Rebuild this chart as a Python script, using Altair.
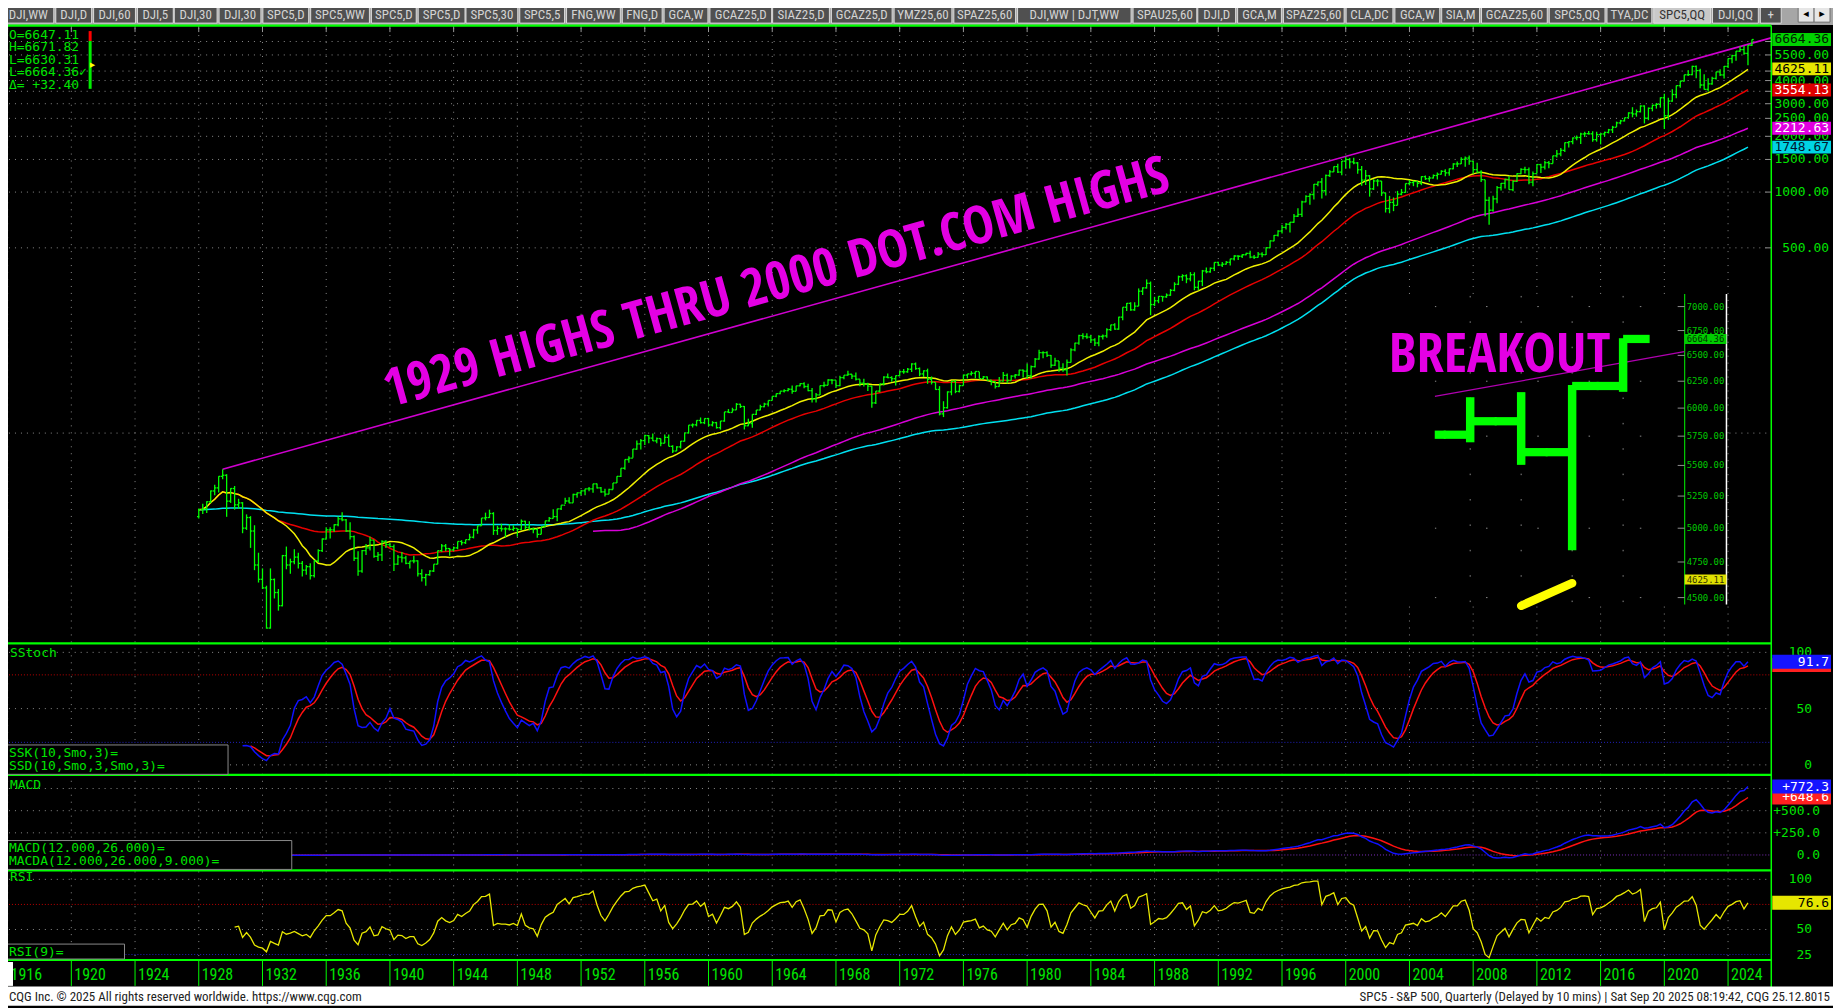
import math
import altair as alt
import numpy as np
import pandas as pd

# ----------------------------------------------------------------- data
FIRST_YEAR = 1928
FIRST_OPEN = 17.7

CLOSE = [
    19.3, 19.5, 21.3, 24.35, 25.3, 29.2, 29.6, 21.45, 25.1, 20.5, 21.0, 15.34,
    17.5, 14.8, 9.7, 8.12, 7.3, 4.43, 8.1, 6.89, 5.85, 10.9, 9.7, 10.1,
    10.7, 9.9, 9.1, 9.5, 8.5, 10.2, 11.6, 13.4, 15.0, 15.0, 16.0, 17.2,
    17.0, 14.8, 13.8, 10.55, 9.0, 11.6, 12.0, 13.2, 10.8, 11.0, 13.0, 12.5,
    12.2, 9.8, 10.7, 10.6, 9.9, 10.2, 10.2, 8.7, 8.3, 8.6, 9.0, 9.8,
    11.6, 12.3, 11.9, 11.7, 12.0, 13.0, 12.8, 13.3, 13.7, 15.0, 15.8, 17.4,
    17.5, 18.4, 14.9, 15.3, 15.2, 15.2, 15.1, 15.3, 15.1, 16.7, 15.5, 15.2,
    15.1, 14.2, 15.6, 16.8, 17.3, 17.7, 19.5, 20.4, 21.5, 21.0, 23.3, 23.8,
    24.4, 25.0, 25.0, 26.6, 25.3, 24.1, 23.4, 24.8, 26.9, 29.2, 32.3, 36.0,
    36.6, 41.0, 43.7, 45.5, 48.5, 47.0, 45.4, 46.7, 44.1, 47.4, 42.4, 40.0,
    42.1, 45.2, 50.1, 55.2, 55.4, 58.5, 56.9, 59.9, 55.3, 56.9, 53.5, 58.1,
    65.1, 64.6, 66.7, 71.55, 69.6, 54.75, 56.3, 63.1, 66.6, 69.4, 71.7, 75.0,
    79.0, 81.7, 84.2, 84.75, 86.2, 84.1, 90.0, 92.4, 89.2, 84.7, 76.6, 80.3,
    90.2, 90.6, 96.7, 96.5, 90.2, 99.6, 102.7, 103.9, 101.5, 97.7, 93.1, 92.1,
    89.6, 72.7, 84.3, 92.15, 100.3, 99.7, 98.3, 102.1, 107.2, 107.1, 110.6, 118.05,
    111.5, 104.3, 108.4, 97.55, 94.0, 86.0, 63.5, 68.56, 83.4, 95.2, 83.9, 90.2,
    102.8, 104.3, 105.2, 107.5, 98.4, 100.5, 96.5, 95.1, 89.2, 95.5, 102.5, 96.1,
    101.6, 102.9, 109.3, 107.9, 102.1, 114.2, 125.5, 135.8, 136.0, 131.2, 116.2, 122.6,
    112.0, 109.6, 120.4, 140.6, 153.0, 168.1, 166.1, 164.9, 159.2, 153.2, 166.1, 167.2,
    180.7, 191.9, 182.1, 211.3, 238.9, 250.8, 231.3, 242.2, 291.7, 304.0, 321.8, 247.1,
    258.9, 273.5, 271.9, 277.7, 294.9, 318.0, 349.2, 353.4, 339.9, 358.0, 306.1, 330.2,
    375.2, 371.2, 387.9, 417.1, 403.7, 408.1, 417.8, 435.7, 451.7, 450.5, 458.9, 466.5,
    445.8, 444.3, 462.7, 459.3, 500.7, 544.75, 584.4, 615.9, 645.5, 670.6, 687.3, 740.7,
    757.1, 885.1, 947.3, 970.4, 1101.8, 1133.8, 1017.0, 1229.2, 1286.4, 1372.7, 1282.7, 1469.25,
    1498.6, 1454.6, 1436.5, 1320.3, 1160.3, 1224.4, 1040.9, 1148.1, 1147.4, 989.8, 815.3, 879.8,
    848.2, 974.5, 996.0, 1111.9, 1126.2, 1140.8, 1114.6, 1211.9, 1180.6, 1191.3, 1228.8, 1248.3,
    1294.8, 1270.2, 1335.85, 1418.3, 1420.9, 1503.35, 1526.75, 1468.4, 1322.7, 1280.0, 1166.4, 903.25,
    797.9, 919.3, 1057.1, 1115.1, 1169.4, 1030.7, 1141.2, 1257.6, 1325.8, 1320.6, 1131.4, 1257.6,
    1408.5, 1362.2, 1440.7, 1426.2, 1569.2, 1606.3, 1681.55, 1848.4, 1872.3, 1960.2, 1972.3, 2058.9,
    2067.9, 2063.1, 1920.0, 2043.9, 2059.7, 2098.9, 2168.3, 2238.8, 2362.7, 2423.4, 2519.4, 2673.6,
    2640.9, 2718.4, 2914.0, 2506.85, 2834.4, 2941.8, 2976.7, 3230.8, 2584.6, 3100.3, 3363.0, 3756.1,
    3972.9, 4297.5, 4307.5, 4766.2, 4530.4, 3785.4, 3585.6, 3839.5, 4109.3, 4450.4, 4288.1, 4769.8,
    5254.35, 5460.5, 5762.5, 5881.6, 5611.85, 6205.0, 6664.36,
]

HIGH = [
    19.6, 20.8, 21.4, 24.5, 26.3, 29.2, 31.9, 30.0, 25.2, 25.9, 22.1, 21.2,
    18.2, 17.8, 15.9, 11.3, 9.3, 7.5, 9.3, 8.2, 7.2, 11.0, 12.2, 10.5,
    11.8, 11.3, 10.2, 9.7, 9.9, 10.3, 11.8, 13.5, 15.5, 15.5, 16.1, 17.7,
    18.7, 17.2, 16.5, 14.0, 11.5, 11.7, 12.6, 13.8, 13.2, 11.4, 13.2, 13.2,
    12.8, 12.5, 11.0, 11.4, 10.9, 10.2, 10.9, 10.3, 9.2, 8.7, 9.1, 9.8,
    11.6, 12.6, 12.6, 12.0, 12.2, 13.0, 13.2, 13.3, 14.3, 15.2, 15.8, 17.4,
    18.6, 19.3, 18.7, 15.8, 16.2, 15.5, 16.1, 15.9, 15.3, 17.1, 16.8, 16.7,
    15.4, 15.3, 15.6, 16.8, 17.6, 19.4, 19.5, 20.4, 22.4, 22.5, 23.5, 23.9,
    24.6, 25.0, 25.6, 26.6, 26.7, 25.6, 25.0, 25.0, 26.9, 29.2, 32.3, 36.0,
    37.5, 41.0, 45.6, 46.4, 48.9, 48.8, 49.7, 47.4, 46.7, 49.1, 49.1, 43.0,
    42.4, 45.3, 50.1, 55.2, 56.4, 58.6, 60.7, 60.0, 60.4, 58.0, 57.5, 58.1,
    65.1, 67.4, 68.5, 72.6, 72.0, 70.0, 59.8, 63.1, 66.6, 71.0, 73.0, 75.0,
    79.1, 81.7, 84.2, 86.3, 87.6, 90.3, 90.0, 93.0, 94.1, 92.4, 87.6, 82.4,
    90.3, 94.6, 97.6, 97.6, 96.5, 102.0, 102.7, 108.4, 103.9, 106.2, 97.7, 98.3,
    93.5, 90.1, 84.3, 92.2, 101.2, 104.8, 101.2, 102.2, 108.6, 111.0, 112.3, 119.1,
    120.2, 113.0, 109.0, 111.4, 101.1, 94.0, 89.6, 74.3, 84.0, 95.2, 96.6, 91.2,
    103.5, 104.3, 108.0, 107.8, 107.0, 101.8, 100.9, 97.0, 94.9, 100.3, 107.0, 105.0,
    102.6, 104.3, 110.0, 110.3, 118.4, 116.0, 127.1, 141.0, 138.4, 138.1, 132.1, 127.4,
    122.6, 119.3, 124.9, 143.7, 153.7, 170.0, 172.7, 172.7, 169.3, 162.5, 168.9, 170.4,
    183.9, 192.0, 196.0, 212.0, 238.9, 252.0, 254.0, 254.0, 301.9, 306.0, 337.9, 328.9,
    272.0, 274.0, 274.0, 283.7, 300.0, 326.0, 354.0, 360.0, 359.7, 369.8, 368.9, 332.0,
    380.0, 392.0, 392.0, 418.0, 420.8, 419.0, 425.0, 436.0, 456.0, 454.0, 462.0, 470.9,
    482.9, 458.0, 475.5, 474.0, 503.0, 547.0, 586.0, 622.0, 664.0, 680.0, 690.0, 762.0,
    818.0, 898.0, 960.0, 985.0, 1106.0, 1139.0, 1190.6, 1244.9, 1316.6, 1375.0, 1420.3, 1473.1,
    1553.1, 1527.2, 1530.1, 1454.8, 1383.4, 1316.0, 1236.7, 1173.0, 1176.9, 1147.8, 994.5, 954.3,
    935.1, 1015.3, 1039.6, 1112.6, 1163.2, 1150.6, 1147.0, 1217.9, 1229.1, 1219.6, 1245.9, 1275.8,
    1310.9, 1326.7, 1340.3, 1431.8, 1461.6, 1540.6, 1555.9, 1576.1, 1471.8, 1440.2, 1313.2, 1167.0,
    943.9, 956.2, 1080.2, 1119.7, 1180.7, 1219.8, 1157.2, 1262.6, 1344.1, 1370.6, 1356.5, 1292.7,
    1419.2, 1422.4, 1474.5, 1471.0, 1570.3, 1687.2, 1729.9, 1849.4, 1884.0, 1968.2, 2019.3, 2093.6,
    2119.6, 2134.7, 2132.8, 2116.5, 2072.2, 2120.6, 2193.8, 2277.5, 2401.0, 2453.8, 2519.4, 2695.0,
    2872.9, 2791.5, 2940.9, 2939.9, 2860.3, 2964.2, 3028.0, 3247.9, 3393.5, 3233.1, 3588.1, 3760.2,
    3994.4, 4302.4, 4545.9, 4808.9, 4818.6, 4637.3, 4325.3, 4120.0, 4195.4, 4458.5, 4607.1, 4793.3,
    5264.9, 5505.5, 5767.4, 6100.0, 6147.4, 6215.1, 6671.8,
]

LOW = [
    17.3, 18.3, 18.5, 20.9, 23.1, 23.9, 28.2, 17.66, 21.0, 19.3, 19.5, 14.4,
    15.0, 12.0, 9.1, 7.8, 7.2, 4.40, 4.4, 6.4, 5.5, 5.8, 9.2, 8.7,
    9.8, 9.3, 8.4, 8.6, 8.1, 8.3, 10.0, 11.4, 13.3, 13.5, 14.6, 15.7,
    16.7, 14.6, 13.3, 10.2, 8.5, 8.8, 11.0, 11.6, 10.6, 10.2, 10.2, 12.0,
    12.1, 8.99, 9.7, 10.0, 9.8, 9.3, 9.9, 8.4, 7.9, 7.5, 8.5, 8.9,
    9.8, 11.4, 11.5, 10.9, 11.5, 11.8, 12.4, 12.6, 13.2, 13.5, 14.3, 15.8,
    16.9, 17.4, 14.1, 14.1, 14.7, 13.7, 14.9, 14.8, 13.8, 15.0, 15.0, 14.9,
    14.4, 13.6, 14.2, 15.6, 16.6, 17.3, 16.7, 19.2, 20.7, 20.9, 21.0, 22.4,
    23.1, 23.1, 24.3, 23.8, 25.1, 23.8, 22.7, 23.4, 24.8, 26.9, 29.0, 31.7,
    34.6, 36.8, 40.7, 40.8, 43.1, 44.1, 45.3, 44.1, 42.4, 44.0, 42.4, 39.0,
    40.0, 41.3, 45.0, 49.7, 53.6, 54.4, 56.3, 55.9, 54.2, 54.3, 52.9, 52.2,
    57.6, 64.2, 64.6, 66.7, 68.3, 52.3, 54.5, 53.5, 62.7, 66.4, 68.9, 69.6,
    74.9, 78.1, 80.9, 82.9, 84.1, 81.6, 84.1, 89.6, 87.4, 84.0, 73.2, 73.2,
    80.2, 88.4, 90.6, 91.8, 87.7, 89.6, 97.7, 102.0, 97.8, 96.2, 89.5, 89.2,
    84.4, 68.6, 71.8, 82.9, 90.2, 98.7, 94.7, 90.2, 101.7, 104.7, 105.8, 106.8,
    109.8, 101.3, 100.5, 92.2, 91.5, 85.7, 62.3, 61.0, 67.8, 80.0, 82.1, 82.9,
    90.2, 98.6, 102.2, 98.8, 98.4, 97.4, 96.2, 90.7, 86.9, 88.9, 94.9, 92.5,
    96.1, 98.4, 102.1, 99.9, 98.2, 98.2, 113.0, 124.5, 126.6, 128.8, 112.8, 115.0,
    107.3, 107.2, 102.2, 120.4, 138.3, 150.0, 160.3, 161.4, 153.8, 147.8, 147.3, 160.0,
    163.4, 177.9, 180.7, 180.8, 203.5, 228.3, 228.7, 228.6, 242.2, 278.2, 301.4, 216.5,
    242.6, 251.3, 256.0, 268.8, 275.3, 291.4, 314.6, 331.6, 322.2, 330.0, 295.5, 295.0,
    311.0, 365.0, 367.0, 375.0, 400.0, 394.5, 406.5, 401.6, 426.9, 429.7, 441.0, 456.0,
    438.9, 435.9, 443.0, 444.3, 457.2, 500.2, 542.5, 576.0, 597.0, 627.5, 605.9, 684.0,
    733.0, 733.5, 880.0, 855.3, 912.8, 1074.0, 923.3, 959.0, 1205.5, 1282.0, 1268.0, 1233.7,
    1339.4, 1339.4, 1413.9, 1254.1, 1081.2, 1091.0, 944.8, 1026.8, 1074.4, 952.9, 775.7, 768.6,
    788.9, 847.9, 960.8, 990.4, 1087.2, 1076.3, 1060.7, 1090.2, 1163.7, 1136.2, 1183.6, 1168.2,
    1245.7, 1219.3, 1224.5, 1327.1, 1364.0, 1416.4, 1370.6, 1406.1, 1257.0, 1272.0, 1133.5, 741.0,
    666.8, 783.3, 869.3, 1020.2, 1044.5, 1028.3, 1010.9, 1131.9, 1249.1, 1258.1, 1101.5, 1074.8,
    1258.9, 1266.7, 1325.4, 1343.4, 1426.2, 1536.0, 1560.3, 1646.5, 1737.9, 1814.4, 1904.8, 1820.7,
    1980.9, 2048.4, 1867.0, 1871.9, 1810.1, 1991.7, 2074.0, 2083.8, 2245.1, 2322.3, 2405.7, 2521.2,
    2532.7, 2553.8, 2692.0, 2346.6, 2444.0, 2728.8, 2822.1, 2856.0, 2191.9, 2447.5, 3073.7, 3209.5,
    3662.7, 3955.3, 4233.1, 4278.9, 4114.7, 3636.9, 3584.1, 3491.6, 3794.3, 4048.3, 4238.6, 4103.8,
    4682.1, 4953.6, 5119.3, 5696.5, 5504.7, 4835.0, 6150.0,
]

assert len(CLOSE) == len(HIGH) == len(LOW), (len(CLOSE), len(HIGH), len(LOW))

YEAR_TICKS = list(range(1916, 2025, 4))
PRICE_LABELS = [5500, 4000, 3000, 2500, 2000, 1500, 1000, 500]
PRICE_GRID = [50, 500, 1000, 1500, 2000, 2500, 3000, 3500, 4000, 4500, 5500, 6500]
LEGEND_LINES = ["O=6647.11", "H=6671.82", "L=6630.31", "L=6664.36\u2713", "\u0394= +32.40"]
TREND_T = [1929.5, 2026.7]
TREND_P = [31.9, 6800.0]
BIG_TEXT = "1929 HIGHS THRU 2000 DOT.COM HIGHS"
BIG_TEXT_AT = (1939.96, 68.8)

STO_LABELS = [100, 50, 0]
MACD_LABELS = [500, 250, 0]
MACD_LABEL_TEXT = ["+500.0", "+250.0", "0.0"]
RSI_LABELS = [100, 50, 25]

INSET_LABELS = [7000, 6750, 6500, 6250, 6000, 5750, 5500, 5250, 5000, 4750, 4500]
INSET_TREND_T = [2024.576, 2025.80]
INSET_TREND_P = [6107.0, 6537.0]
BREAKOUT_AT = (2024.35, 6342.0)

TABS = ["DJI,WW", "DJI,D", "DJI,60", "DJI,5", "DJI,30", "DJI,30", "SPC5,D", "SPC5,WW",
        "SPC5,D", "SPC5,D", "SPC5,30", "SPC5,5", "FNG,WW", "FNG,D", "GCA,W", "GCAZ25,D",
        "SIAZ25,D", "GCAZ25,D", "YMZ25,60", "SPAZ25,60", "DJI,WW | DJT,WW", "SPAU25,60",
        "DJI,D", "GCA,M", "SPAZ25,60", "CLA,DC", "GCA,W", "SIA,M", "GCAZ25,60", "SPC5,QQ",
        "TYA,DC", "SPC5,QQ", "DJI,QQ", "+"]
SELECTED_TAB = 31

# ----------------------------------------------------------------- layout
OFF = 8.0            # page margin: chart pixel = reference pixel - 8
W, H = 1833, 1000
TAB_LEFT = [3, 56, 94, 138, 175, 220, 264, 312, 373, 420, 468, 522, 569, 625, 667, 713, 776,
            835, 898, 958, 1022, 1138, 1203, 1243, 1289, 1352, 1401, 1448, 1488, 1556, 1614,
            1661, 1720, 1768]
TAB_RIGHT = [54, 92, 136, 174, 218, 262, 310, 371, 418, 467, 520, 567, 623, 665, 711, 775, 833,
             896, 956, 1020, 1136, 1202, 1241, 1287, 1350, 1399, 1446, 1486, 1554, 1612, 1659,
             1718, 1766, 1789]

MONO = "DejaVu Sans Mono"
COND = "Roboto Condensed, Liberation Sans Narrow, sans-serif"
HEAD = "Open Sans Condensed, Roboto Condensed, sans-serif"
GREEN = "#00ff00"
TXTGREEN = "#00e400"
GRID = "#8a8a8a"


def P(v):
    return v - OFF


def lin(domain, r0, r1):
    return alt.Scale(type="linear", domain=domain, range=[P(r0), P(r1)], nice=False, zero=False)


def logs(domain, r0, r1):
    return alt.Scale(type="log", domain=domain, range=[P(r0), P(r1)], nice=False)


XM = lin([1920, 2024], 71.6, 71.6 + 104 * 16)
YM = logs([1000, 10000], 190.7, 190.7 - 80.8 * math.log(10))
YS = lin([0, 100], 766, 653)
YD = lin([0, 500], 856.5, 812)
YR = lin([25, 100], 956.5, 881)
XI = lin([2025.25, 2025.5], 1579, 1630.2)
YI = logs([4500, 7000], 598, 305.7)

ONE = pd.DataFrame({"k": [0]})


def ex(f, s):
    return alt.X(f, type="quantitative", scale=s, axis=None)


def ey(f, s):
    return alt.Y(f, type="quantitative", scale=s, axis=None)


def hrule(values, ys, x0, x1, color, width=1.0, dash=None, opacity=1.0):
    kw = dict(color=color, strokeWidth=width, opacity=opacity)
    if dash:
        kw["strokeDash"] = dash
    return alt.Chart(pd.DataFrame({"v": values})).mark_rule(**kw).encode(
        y=ey("v", ys), x=alt.value(P(x0)), x2=alt.value(P(x1)))


def vrule(values, xs, y0, y1, color, width=1.0, dash=None, opacity=1.0):
    kw = dict(color=color, strokeWidth=width, opacity=opacity)
    if dash:
        kw["strokeDash"] = dash
    return alt.Chart(pd.DataFrame({"v": values})).mark_rule(**kw).encode(
        x=ex("v", xs), y=alt.value(P(y0)), y2=alt.value(P(y1)))


def sline(t, v, xs, ys, color, width=1.4, cap="butt"):
    d = pd.DataFrame({"t": t, "v": v}).dropna()
    return alt.Chart(d).mark_line(color=color, strokeWidth=width, strokeCap=cap).encode(
        x=ex("t", xs), y=ey("v", ys))


def ylabels(values, texts, ys, x, color, size=13, align="right", font=MONO):
    d = pd.DataFrame({"v": values, "s": texts})
    return alt.Chart(d).mark_text(align=align, baseline="middle", font=font,
                                  fontSize=size, color=color).encode(
        y=ey("v", ys), x=alt.value(P(x)), text="s:N")


def ybox(value, ys, x0, x1, h, fill):
    return alt.Chart(pd.DataFrame({"v": [value]})).mark_rule(color=fill, strokeWidth=h).encode(
        y=ey("v", ys), x=alt.value(P(x0)), x2=alt.value(P(x1)))


def prect(x0, x1, y0, y1, fill, stroke=None, sw=1.0):
    kw = dict(fill=fill)
    if stroke:
        kw.update(stroke=stroke, strokeWidth=sw)
    return alt.Chart(ONE).mark_rect(**kw).encode(
        x=alt.value(P(x0)), x2=alt.value(P(x1)), y=alt.value(P(y0)), y2=alt.value(P(y1)))


def prule(x0, y0, x1, y1, color, width=1.0, dash=None):
    kw = dict(color=color, strokeWidth=width)
    if dash:
        kw["strokeDash"] = dash
    return alt.Chart(ONE).mark_rule(**kw).encode(
        x=alt.value(P(x0)), x2=alt.value(P(x1)), y=alt.value(P(y0)), y2=alt.value(P(y1)))


def ptext(x, y, text, color, size=13, font=MONO, align="left", baseline="middle", weight="normal"):
    return alt.Chart(ONE).mark_text(text=text, color=color, fontSize=size, font=font, align=align,
                                    baseline=baseline, fontWeight=weight).encode(
        x=alt.value(P(x)), y=alt.value(P(y)))


# ----------------------------------------------------------------- series
n = len(CLOSE)
t_all = [FIRST_YEAR + i / 4.0 for i in range(n)]
opens = [FIRST_OPEN] + CLOSE[:-1]
bars = pd.DataFrame({"t": t_all, "open": opens, "high": HIGH, "low": LOW, "close": CLOSE})

# studies are shown for completed quarters (the current quarter is not included)
done = bars.iloc[:-1].reset_index(drop=True)
c, h, l = done["close"], done["high"], done["low"]


def smo(s, k):
    v = s.to_numpy(dtype=float)
    out = np.full(len(v), np.nan)
    idx = np.where(~np.isnan(v))[0]
    if len(idx) < k:
        return pd.Series(out)
    st = idx[0]
    out[st + k - 1] = np.mean(v[st:st + k])
    for i in range(st + k, len(v)):
        out[i] = (out[i - 1] * (k - 1) + v[i]) / k
    return pd.Series(out)


ma20 = c.rolling(20, min_periods=1).mean()
ma40 = c.rolling(40, min_periods=1).mean()
ma100 = c.rolling(100).mean()
ema200 = c.ewm(span=200, adjust=False).mean()

ll = l.rolling(10).min()
hh = h.rolling(10).max()
fast_k = 100 * (c - ll) / (hh - ll)
ssk = smo(fast_k, 3)
ssd = smo(ssk, 3)

macd = c.ewm(span=12, adjust=False).mean() - c.ewm(span=26, adjust=False).mean()
macda = macd.ewm(span=9, adjust=False).mean()

chg = c.diff()
up = smo(chg.clip(lower=0), 9)
dn = smo((-chg).clip(lower=0), 9)
rsi = 100 - 100 / (1 + up / dn)

td = done["t"]

# ----------------------------------------------------------------- layers
L = []

# window chrome: tab strip
L.append(prect(0, 1841, 0, 23, "#a6a6a6"))
tabs = pd.DataFrame({"x0": [a - OFF for a in TAB_LEFT], "x1": [b - OFF for b in TAB_RIGHT],
                     "xc": [(a + b) / 2 - OFF for a, b in zip(TAB_LEFT, TAB_RIGHT)],
                     "s": TABS, "sel": [i == SELECTED_TAB for i in range(len(TABS))]})
L.append(alt.Chart(tabs).mark_rect(stroke="#dcdcdc", strokeWidth=1).encode(
    x=alt.X("x0:Q", scale=None), x2="x1:Q", y=alt.value(P(3)), y2=alt.value(P(21)),
    fill=alt.condition("datum.sel", alt.value("#c9c9c9"), alt.value("#505050"))))
L.append(alt.Chart(tabs).mark_text(font=COND, fontSize=13, baseline="middle").encode(
    x=alt.X("xc:Q", scale=None), y=alt.value(P(12.5)), text="s:N",
    color=alt.condition("datum.sel", alt.value("#333333"), alt.value("#d4d4d4"))))
L.append(prect(1806, 1822, 4, 20, "#e6e6e6", "#707070"))
L.append(prect(1822, 1838, 4, 20, "#e6e6e6", "#707070"))
L.append(ptext(1814, 12, "\u25c2", "#000000", 11, "DejaVu Sans", "center"))
L.append(ptext(1830, 12, "\u25b8", "#000000", 11, "DejaVu Sans", "center"))

# grids
L.append(vrule(YEAR_TICKS, XM, 26, 962, GRID, 1, [1, 6]))
L.append(hrule(PRICE_GRID, YM, 3, 1779, GRID, 1, [1, 5]))
L.append(hrule([100, 50, 0], YS, 3, 1779, GRID, 1, [1, 5]))
L.append(hrule([80], YS, 3, 1779, "#c00000", 1, [1, 2]))
L.append(hrule([20], YS, 3, 1779, "#2020c0", 1, [1, 2]))
L.append(hrule([750, 500, 250], YD, 3, 1779, GRID, 1, [1, 5]))
L.append(hrule([0], YD, 3, 1779, "#8030c0", 1, [1, 2]))
L.append(hrule([100, 50], YR, 3, 1779, GRID, 1, [1, 5]))
L.append(hrule([75], YR, 3, 1779, "#c00000", 1, [1, 2]))
L.append(hrule([25], YR, 3, 1779, "#2020c0", 1, [1, 2]))
L.append(vrule(YEAR_TICKS, XM, 24, 30, "#9a9a9a", 1))

# moving averages
L.append(sline(td, ema200, XM, YM, "#00e0f0", 1.5))
L.append(sline(td, ma100, XM, YM, "#d800d8", 1.5))
L.append(sline(td, ma40, XM, YM, "#e80000", 1.5))
L.append(sline(td, ma20, XM, YM, "#f0f000", 1.5))

# 1929 -> 2000 trend line
L.append(sline(TREND_T, TREND_P, XM, YM, "#d000d0", 1.6))

# OHLC bars
L.append(alt.Chart(bars).mark_rule(color=GREEN, strokeWidth=1.3).encode(
    x=ex("t", XM), y=ey("low", YM), y2="high:Q"))
L.append(alt.Chart(bars).transform_calculate(t0="datum.t - 0.11").mark_rule(
    color=GREEN, strokeWidth=1.3).encode(x=ex("t0", XM), x2="t:Q", y=ey("open", YM)))
L.append(alt.Chart(bars).transform_calculate(t1="datum.t + 0.11").mark_rule(
    color=GREEN, strokeWidth=1.3).encode(x=ex("t", XM), x2="t1:Q", y=ey("close", YM)))

# indicator lines
L.append(sline(td, ssd, XM, YS, "#ff1010", 1.5))
L.append(sline(td, ssk, XM, YS, "#1010ff", 1.5))
L.append(sline(td, macda, XM, YD, "#ff1010", 1.5))
L.append(sline(td, macd, XM, YD, "#1010ff", 1.5))
L.append(sline(td, rsi, XM, YR, "#e8e800", 1.3))

# headline annotation
L.append(alt.Chart(pd.DataFrame({"t": [BIG_TEXT_AT[0]], "p": [BIG_TEXT_AT[1]], "s": [BIG_TEXT]}))
         .mark_text(font=HEAD, fontSize=53, fontWeight="bold", color="#e400e4", align="left",
                    baseline="alphabetic", angle=344.5)
         .encode(x=ex("t", XM), y=ey("p", YM), text="s:N"))

# ---- inset (zoom on the last quarters)
L.append(prect(1441, 1734, 293, 605, "#000000"))
L.append(vrule([2024.75, 2025.0, 2025.25, 2025.5], XI, 295, 604, GRID, 1, [1.5, 24]))
L.append(hrule([7000, 6250, 5750, 5000, 4500], YI, 1441, 1690, GRID, 1, [1.5, 50]))
L.append(prule(1692, 293, 1692, 605, "#00d000", 1.2))
L.append(prule(1734, 293, 1734, 605, "#ffffff", 1.5))
L.append(hrule(INSET_LABELS, YI, 1685, 1692, "#909090", 1))
L.append(ylabels(INSET_LABELS, [f"{v:.2f}" for v in INSET_LABELS], YI, 1694, "#00c800", 9,
                 "left"))
L.append(sline(INSET_TREND_T, INSET_TREND_P, XI, YI, "#b000b0", 1.3))
L.append(sline(td[(td >= 2025.0)], ma20[(td >= 2025.0)], XI, YI, "#ffff00", 8.5, "round"))
ib = bars[bars["t"] >= 2024.75]
ic = bars[bars["t"] >= 2024.5]
L.append(alt.Chart(ib).mark_rule(color=GREEN, strokeWidth=8.5).encode(
    x=ex("t", XI), y=ey("low", YI), y2="high:Q"))
L.append(alt.Chart(ib).transform_calculate(t0="datum.t - 0.13").mark_rule(
    color=GREEN, strokeWidth=8.3).encode(x=ex("t0", XI), x2="t:Q", y=ey("open", YI)))
L.append(alt.Chart(ic).transform_calculate(t1="datum.t + 0.13").mark_rule(
    color=GREEN, strokeWidth=8.3).encode(x=ex("t", XI), x2="t1:Q", y=ey("close", YI)))
L.append(prect(1400, 1441, 293, 605, "#000000"))
L.append(ybox(6664.36, YI, 1692, 1734, 10, "#00cc00"))
L.append(ylabels([6664.36], ["6664.36"], YI, 1694, "#003300", 9, "left"))
L.append(ybox(4625.11, YI, 1692, 1734, 10, "#e0e000"))
L.append(ylabels([4625.11], ["4625.11"], YI, 1694, "#333300", 9, "left"))
L.append(alt.Chart(pd.DataFrame({"t": [BREAKOUT_AT[0]], "p": [BREAKOUT_AT[1]], "s": ["BREAKOUT"]}))
         .mark_text(font=HEAD, fontSize=55, fontWeight="bold", color="#e400e4", align="left",
                    baseline="alphabetic")
         .encode(x=ex("t", XI), y=ey("p", YI), text="s:N"))

# ---- panel frames
for yy in (23.5, 644, 776, 872, 962):
    L.append(prule(0, yy, 1779, yy, GREEN, 2.2))
L.append(prule(1779, 23.5, 1779, 990, GREEN, 1.5))

# ---- right axis labels
L.append(hrule(PRICE_GRID[1:], YM, 1773, 1779, "#909090", 1))
L.append(ylabels(PRICE_LABELS, [f"{v:.2f}" for v in PRICE_LABELS], YM, 1837, TXTGREEN))
for val, txt, fill, tc in [(6664.36, "6664.36", "#00d200", "#002200"),
                           (4625.11, "4625.11", "#e6e600", "#000000"),
                           (3554.13, "3554.13", "#e00000", "#ffffff"),
                           (2212.63, "2212.63", "#e000e0", "#ffffff"),
                           (1748.67, "1748.67", "#00d4e4", "#001830")]:
    L.append(ybox(val, YM, 1780, 1839, 13, fill))
    L.append(ylabels([val], [txt], YM, 1837, tc))

L.append(ylabels(STO_LABELS, [str(v) for v in STO_LABELS], YS, 1820, TXTGREEN))
L.append(ybox(88.8, YS, 1780, 1839, 14, "#ff2020"))
L.append(ybox(91.7, YS, 1780, 1839, 14, "#1414ff"))
L.append(ylabels([91.7], ["91.7"], YS, 1837, "#ffffff"))

L.append(ylabels(MACD_LABELS, MACD_LABEL_TEXT, YD, 1828, TXTGREEN))
L.append(ybox(648.6, YD, 1780, 1839, 14, "#ff2020"))
L.append(ylabels([648.6], ["+648.6"], YD, 1837, "#ffffff"))
L.append(ybox(772.3, YD, 1780, 1839, 14, "#1414ff"))
L.append(ylabels([772.3], ["+772.3"], YD, 1837, "#ffffff"))

L.append(ylabels(RSI_LABELS, [str(v) for v in RSI_LABELS], YR, 1820, TXTGREEN))
L.append(ybox(76.6, YR, 1780, 1839, 14, "#e6e600"))
L.append(ylabels([76.6], ["76.6"], YR, 1837, "#000000"))

# ---- legends
for i, s in enumerate(LEGEND_LINES):
    L.append(ptext(9, 32.7 + 12.5 * i, s, TXTGREEN, 13))
L.append(prule(90.5, 29, 90.5, 39, "#ff0000", 3))
L.append(prule(90.5, 39, 90.5, 87, "#00ee00", 3))
L.append(ptext(90, 63, "\u25b6", "#ffff00", 7, "DejaVu Sans", "left"))

L.append(ptext(10, 654, "SStoch", TXTGREEN, 13))
L.append(prect(3, 229, 746, 775.5, "#000000", "#8a8a8a", 1))
L.append(ptext(9, 754, "SSK(10,Smo,3)=", TXTGREEN, 13))
L.append(ptext(9, 767, "SSD(10,Smo,3,Smo,3)=", TXTGREEN, 13))

L.append(ptext(10, 786, "MACD", TXTGREEN, 13))
L.append(prect(3, 293, 842, 871, "#000000", "#8a8a8a", 1))
L.append(ptext(9, 849.5, "MACD(12.000,26.000)=", TXTGREEN, 13))
L.append(ptext(9, 862.5, "MACDA(12.000,26.000,9.000)=", TXTGREEN, 13))

L.append(ptext(10, 879, "RSI", TXTGREEN, 13))
L.append(prect(3, 125, 946, 961, "#000000", "#8a8a8a", 1))
L.append(ptext(9, 954, "RSI(9)=", TXTGREEN, 13))

# ---- time axis
L.append(vrule(YEAR_TICKS, XM, 962, 988, GREEN, 1))
yt = pd.DataFrame({"v": YEAR_TICKS, "s": [str(y) for y in YEAR_TICKS]})
L.append(alt.Chart(yt).mark_text(font=COND, fontSize=16, color=TXTGREEN, align="left",
                                 baseline="middle", dx=3).encode(
    x=ex("v", XM), y=alt.value(P(977)), text="s:N"))
L.append(prect(5, 13, 964, 988, "#ffffff"))

# ---- footer
L.append(prect(0, 1841, 988.5, 1008, "#ffffff"))
L.append(ptext(9, 999, "CQG Inc. \u00a9 2025 All rights reserved worldwide. https://www.cqg.com",
               "#222222", 13, COND))
L.append(ptext(1838, 999,
               "SPC5 - S&P 500, Quarterly (Delayed by 10 mins) | Sat Sep 20 2025 08:19:42, CQG 25.12.8015",
               "#222222", 13, COND, "right"))

chart = (alt.layer(*L)
         .resolve_scale(x="independent", y="independent")
         .properties(width=W, height=H, padding=0, background="#000000",
                     autosize=alt.AutoSizeParams(type="none"))
         .configure_view(strokeWidth=0))

chart.save("out.html", embed_options={"renderer": "svg", "actions": False})
